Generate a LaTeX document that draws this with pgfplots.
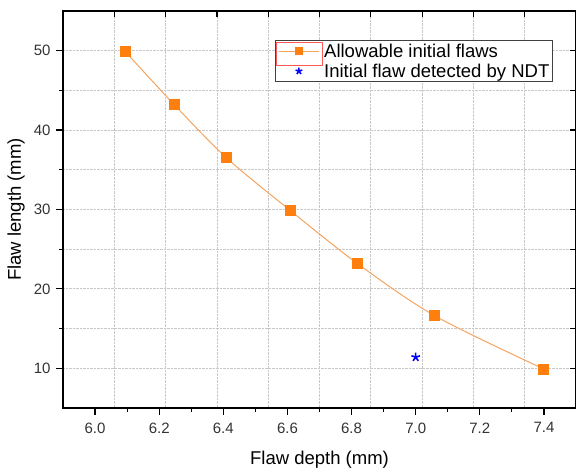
\documentclass[border=0pt]{standalone}
\usepackage{fontspec}
\setmainfont{Liberation Sans}
\usepackage{pgfplots}
\pgfplotsset{compat=1.18}
\definecolor{flaworange}{HTML}{FF7F0E}
\definecolor{flawline}{HTML}{F5A460}
\definecolor{gridgray}{HTML}{C8C8C8}

\begin{document}
\begin{tikzpicture}
% background layer: grid plus the inward ticks on top and right
\begin{axis}[
    scale only axis,
    width=513pt, height=397pt,
    xmin=0, xmax=10, ymin=5, ymax=55,
    xtick={1,...,9}, ytick={5,10,...,55},
    xticklabels={}, yticklabels={},
    xtick pos=right, ytick pos=right,
    tick align=inside,
    major tick length=6pt,
    tick style={line width=1.2pt, black},
    grid=major,
    grid style={densely dotted, gridgray, line width=0.8pt},
    axis line style={line width=1.6pt},
]
\end{axis}
\begin{axis}[
    scale only axis,
    width=513pt, height=397pt,
    xmin=5.9, xmax=7.5, ymin=5, ymax=55,
    xtick={6.0,6.2,...,7.41},
    ytick={10,20,...,50},
    minor x tick num=1, minor y tick num=1,
    xtick pos=left, ytick pos=left,
    tick align=outside,
    major tick length=7pt, minor tick length=4pt,
    tick style={line width=1.2pt, black},
    axis line style={line width=1.6pt},
    /pgf/number format/assume math mode=true,
    xticklabel style={/pgf/number format/fixed, /pgf/number format/fixed zerofill, /pgf/number format/precision=1,
        font=\fontsize{15}{15}\selectfont, text=black!80, yshift=-4pt},
    yticklabel style={font=\fontsize{15}{15}\selectfont, text=black!80, xshift=-2pt},
    xlabel={Flaw depth (mm)},
    ylabel={Flaw length (mm)},
    label style={font=\fontsize{18.5}{18.5}\selectfont},
    xlabel style={at={(axis description cs:0.5,0)}, anchor=base, yshift=-57pt},
    ylabel style={at={(axis description cs:-0.082,0.5)}, anchor=base},
    legend style={name=leg, at={(0.413,0.927)}, anchor=north west, draw=black!75, line width=1pt,
        font=\fontsize{18.5}{18.5}\selectfont, inner sep=0.8pt, row sep=0pt,
        nodes={inner sep=2.5pt}},
    legend cell align=left,
]
\addplot[flawline, line width=1pt, smooth, tension=0.5,
    mark=square*, mark size=5pt, mark options={fill=flaworange, draw=flaworange, line width=0pt},
    legend image code/.code={
        \path[draw=none, fill=none] (-0.1cm,-0.3cm) rectangle (1.5cm,0.3cm);
        \draw[flawline, fill=none, line width=1.4pt] (0cm,0cm) -- (1.4cm,0cm);
        \fill[flaworange] (0.7cm,0cm) +(-3.5pt,-3.5pt) rectangle +(3.5pt,3.5pt);
    }]
    coordinates {
    (6.094,49.9)
    (6.247,43.2)
    (6.410,36.5)
    (6.608,29.9)
    (6.818,23.2)
    (7.060,16.6)
    (7.400,9.9)
};
\addlegendentry{Allowable initial flaws}
\addplot[only marks, mark=star, mark size=4.5pt, blue, mark options={fill=blue, line width=1.6pt},
    legend image code/.code={
        \path[draw=none, fill=none] (-0.1cm,-0.3cm) rectangle (1.5cm,0.3cm);
        \draw[mark size=3.5pt] plot coordinates {(0.7cm,0cm)};
    }]
    coordinates {(7.0,11.4)};
\addlegendentry{Initial flaw detected by NDT}
\end{axis}
% red selection frame round the first legend symbol
\draw[red!65, line width=0.9pt] ([xshift=1.5pt,yshift=-2pt]leg.north west) rectangle ++(46pt,-23pt);
\pgfresetboundingbox
\path[use as bounding box] (-63pt,-65pt) rectangle (513pt,408pt);
\end{tikzpicture}
\end{document}
